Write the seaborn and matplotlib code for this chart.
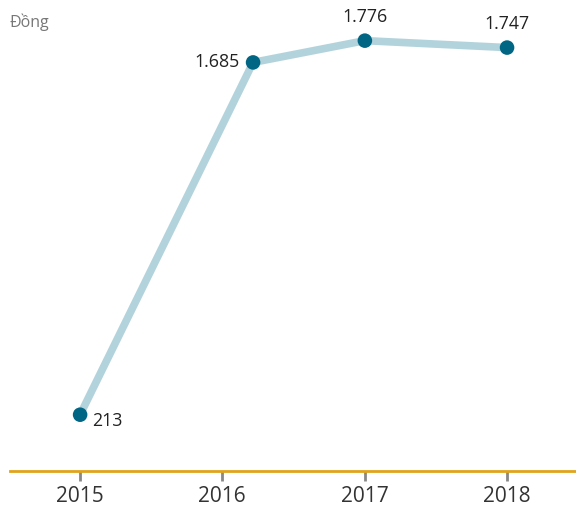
import matplotlib
matplotlib.use('Agg')
import matplotlib.pyplot as plt
import pandas as pd
import seaborn as sns

# data
dates  = pd.to_datetime(['2015-01-01', '2016-03-20', '2017-01-01', '2018-01-01'])
values = [213, 1685, 1776, 1747]
labels = ['213', '1.685', '1.776', '1.747']
tick_years = ['2015', '2016', '2017', '2018']

df = pd.DataFrame({'date': dates, 'value': values})

sns.set_style('white')
plt.rcParams['font.family'] = ['Open Sans', 'DejaVu Sans']

fig = plt.figure(figsize=(5.76, 5.10), dpi=100)
ax = fig.add_axes([10 / 576, 1 - 472.3 / 510, 1 - 10 / 576, 472.3 / 510])

sns.lineplot(data=df, x='date', y='value', ax=ax, color='#b3d3dc', linewidth=5.5,
             solid_capstyle='butt', zorder=2)
sns.scatterplot(data=df, x='date', y='value', ax=ax, color='#006684', s=110,
                edgecolor='none', zorder=3)

# value labels
offsets = [(9, -4, 'left', 'center'), (-10, 1, 'right', 'center'),
           (0, 11, 'center', 'bottom'), (0, 11, 'center', 'bottom')]
for d, v, lab, (dx, dy, ha, va) in zip(dates, values, labels, offsets):
    ax.annotate(lab, (d, v), xytext=(dx, dy), textcoords='offset points',
                ha=ha, va=va, fontsize=12.8, color='#222222')

ax.set_xlim(pd.Timestamp('2014-07-05'), pd.Timestamp('2018-06-27'))
ax.set_ylim(-23.5, 1950)

ax.set_xticks(pd.to_datetime([y + '-01-01' for y in tick_years]))
ax.set_xticklabels(tick_years)
ax.tick_params(axis='x', length=7, width=2, color='#888888', labelsize=15,
               labelcolor='#333333', pad=3, bottom=True)
ax.set_yticks([])
ax.set_xlabel('')
ax.set_ylabel('')

for s in ['top', 'right', 'left']:
    ax.spines[s].set_visible(False)
ax.spines['bottom'].set_color('#e0a31b')
ax.spines['bottom'].set_linewidth(2)

fig.text(10 / 576, 1 - 22 / 510, 'Đồng', ha='left', va='center',
         fontsize=11.5, color='#777777')

fig.savefig('out.png', dpi=100)
